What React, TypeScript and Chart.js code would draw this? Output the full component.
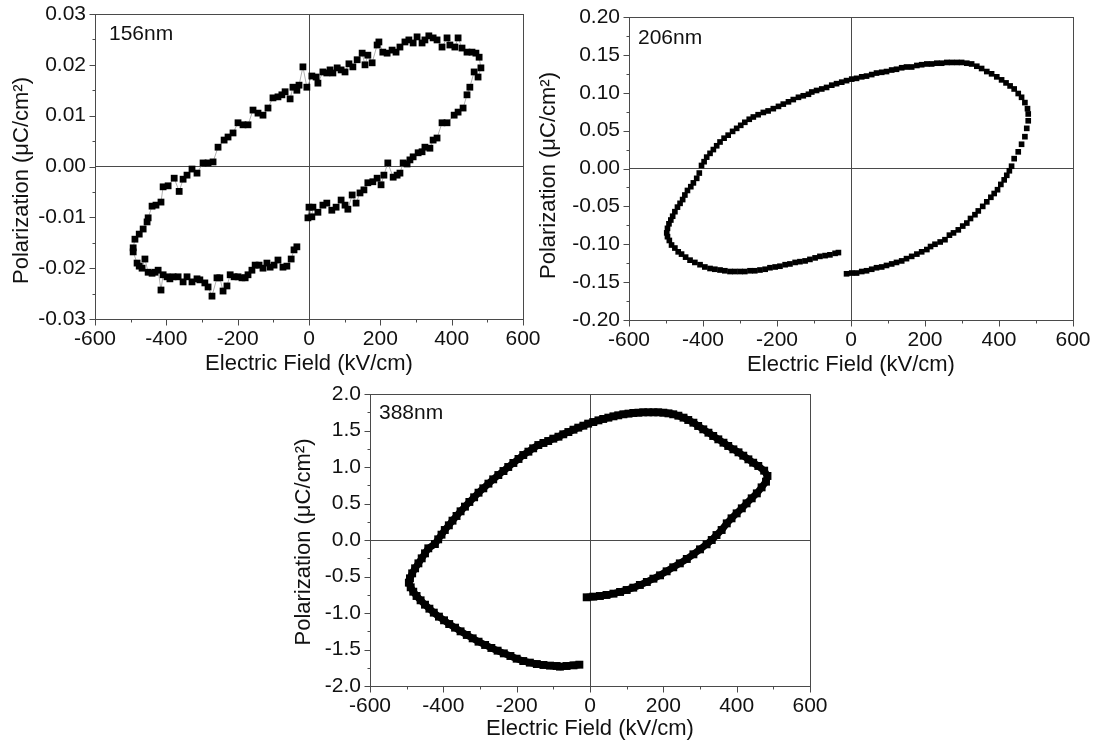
import React, { useEffect, useRef } from 'react';
import { Chart, registerables } from 'chart.js';

Chart.register(...registerables);

const FONT = "'Liberation Sans', Arial, Helvetica, sans-serif";

// ---------- Panel 1: 156nm ----------
const E156 = [
  -3, 0, 8, 11, 25, 39, 50, 64, 76, 90, 101, 109, 121, 132, 143, 154, 165, 179, 191, 202, 210, 221, 236, 247, 255, 264, 275, 283, 292, 306, 317, 325, 339, 348, 359, 373, 387, 407, 418, 432, 443, 451, 463, 474, 482, 477,
  468, 457, 443, 429, 418, 409, 395, 387, 373, 359, 348, 336, 325, 317, 303, 292, 280, 269, 255, 244, 233, 219, 207, 196, 191, 177, 165, 157, 149, 135, 123, 112, 101, 90, 79, 67, 59, 50, 39, 25, 20, 8, -6, -17, -28, -34, -45, -53, -67, -76, -87, -101, -115, -129, -143, -157, -171, -185, -199, -213, -227, -238, -255, -269, -283, -297, -314, -328, -342, -353, -364, -378, -395, -409, -415, -429, -440, -451, -454, -465, -476, -488, -493, -493, -482,
  -476, -468, -460, -451, -440, -432, -423, -415, -409, -398, -390, -381, -367, -353, -342, -328, -314, -306, -292, -283, -272, -258, -250, -241, -230, -221, -210, -199, -188, -179, -171, -160, -151, -140, -129, -118, -109, -98, -87, -73, -62, -50, -42, -34,
];
const P156 = [
  -0.0101, -0.008, -0.0099, -0.008, -0.009, -0.0076, -0.0072, -0.0086, -0.008, -0.0066, -0.0076, -0.0084, -0.0056, -0.0072, -0.0052, -0.0046, -0.0032, -0.003, -0.0023, -0.0036, -0.0017, 0.0007, -0.0021, -0.0017, -0.0013, 0.0007, 0.0005, 0.0013, 0.0019, 0.0027, 0.0029, 0.0038, 0.0036, 0.0052, 0.0056, 0.0086, 0.0086, 0.0101, 0.0107, 0.0115, 0.0141, 0.0156, 0.0186, 0.0176, 0.0194, 0.0215,
  0.0223, 0.0225, 0.0225, 0.0233, 0.0253, 0.0235, 0.0239, 0.0253, 0.0235, 0.0249, 0.0253, 0.0257, 0.0249, 0.0243, 0.0255, 0.0243, 0.0249, 0.0245, 0.0235, 0.0225, 0.0229, 0.0223, 0.0225, 0.0245, 0.0239, 0.0204, 0.0219, 0.02, 0.0223, 0.021, 0.0196, 0.0202, 0.0186, 0.019, 0.0194, 0.0184, 0.019, 0.0184, 0.0186, 0.0164, 0.0176, 0.0178, 0.0156, 0.0196, 0.016, 0.015, 0.0156, 0.0133, 0.0147, 0.0141, 0.0137, 0.0135, 0.0115, 0.0101, 0.0105, 0.0111, 0.0082, 0.0082, 0.0086, 0.0066, 0.0058, 0.0052, 0.0038, 0.0009, 0.0007, 0.0007, -0.0013, -0.0005, -0.0017, -0.0025, -0.0049, -0.0023, -0.0038, -0.004, -0.007, -0.0076, -0.0078, -0.0101, -0.0109, -0.0123, -0.0133, -0.0143, -0.016, -0.0168, -0.019,
  -0.0196, -0.02, -0.0182, -0.0208, -0.021, -0.0208, -0.0204, -0.0243, -0.0213, -0.0217, -0.0221, -0.0217, -0.0217, -0.0227, -0.0217, -0.0227, -0.0221, -0.0223, -0.0229, -0.0237, -0.0255, -0.0219, -0.0219, -0.0245, -0.0235, -0.0213, -0.0217, -0.0217, -0.0219, -0.0219, -0.0213, -0.0204, -0.0194, -0.0194, -0.02, -0.019, -0.0198, -0.0194, -0.0184, -0.0198, -0.0196, -0.0182, -0.0164, -0.0158,
];

// ---------- Panel 2: 206nm ----------
const E206 = [
  -12, 2, 15, 29, 42, 56, 69, 83, 96, 110, 123, 137, 150, 164, 178, 191, 205, 215, 227, 241, 254, 266, 277, 290, 302, 313, 323, 335, 344, 356, 367, 378, 387, 396, 405, 414, 421, 428, 434,
  441, 452, 461, 470, 475, 479, 479, 477, 470, 461, 452, 441, 430, 419, 407, 394, 380, 367, 353, 340, 326, 313, 299, 286, 272, 259, 245, 232, 218, 205, 191, 178, 164, 150, 137, 123, 110, 96, 83, 69, 56, 42, 29, 15, 2, -12, -25, -39, -52, -66, -79, -93, -106,
  -115, -129, -142, -156, -169, -183, -196, -210, -224, -237, -251, -264, -275, -287, -298, -309, -320, -332, -343, -354, -363, -372, -381, -390, -397, -404,
  -410, -417, -426, -433, -442, -449, -455, -462, -469, -476, -482, -487, -492, -496, -498, -496, -491, -485, -476, -467, -458, -447, -435, -422, -408, -395, -381, -368, -354, -341, -327, -314, -300, -287, -273, -260, -246, -232, -219, -205, -192, -178, -165, -151, -138, -124, -111, -97, -84, -70, -57, -43, -34,
];
const P206 = [
  -0.139, -0.138, -0.138, -0.136, -0.135, -0.133, -0.131, -0.13, -0.128, -0.126, -0.124, -0.122, -0.119, -0.116, -0.113, -0.11, -0.107, -0.103, -0.1, -0.097, -0.094, -0.088, -0.085, -0.081, -0.076, -0.072, -0.066, -0.061, -0.056, -0.05, -0.044, -0.038, -0.033, -0.028, -0.021, -0.015, -0.009, -0.003, 0.003,
  0.013, 0.022, 0.032, 0.042, 0.053, 0.063, 0.072, 0.079, 0.087, 0.094, 0.099, 0.105, 0.109, 0.113, 0.117, 0.121, 0.125, 0.128, 0.132, 0.135, 0.138, 0.139, 0.14, 0.14, 0.14, 0.14, 0.139, 0.139, 0.138, 0.138, 0.137, 0.136, 0.134, 0.134, 0.133, 0.131, 0.13, 0.128, 0.127, 0.126, 0.124, 0.122, 0.121, 0.119, 0.118, 0.116, 0.114, 0.112, 0.11, 0.107, 0.105, 0.103, 0.101,
  0.098, 0.096, 0.094, 0.091, 0.088, 0.085, 0.082, 0.079, 0.076, 0.074, 0.071, 0.068, 0.065, 0.061, 0.057, 0.053, 0.049, 0.044, 0.04, 0.035, 0.03, 0.025, 0.02, 0.015, 0.009, 0.004,
  -0.006, -0.013, -0.019, -0.024, -0.029, -0.035, -0.041, -0.046, -0.051, -0.057, -0.063, -0.068, -0.073, -0.079, -0.085, -0.09, -0.095, -0.101, -0.105, -0.11, -0.113, -0.117, -0.121, -0.124, -0.127, -0.13, -0.132, -0.133, -0.134, -0.135, -0.136, -0.136, -0.136, -0.136, -0.135, -0.135, -0.134, -0.133, -0.131, -0.13, -0.129, -0.127, -0.126, -0.124, -0.123, -0.122, -0.12, -0.118, -0.116, -0.115, -0.114, -0.112, -0.111,
];

// ---------- Panel 3: 388nm ----------
const E388 = [
  -9, 9, 27, 45, 64, 82, 100, 118, 136, 155, 173, 191, 209, 227, 245, 264, 282, 300, 318, 332, 345, 359,
  373, 386, 400, 414, 427, 441, 455, 468, 480, 484, 475, 459, 445, 432, 418, 405, 391, 377, 364, 350, 336, 323, 309, 295, 282, 268, 255, 241, 227, 214, 200, 186, 173, 159, 145, 132, 118, 105, 91, 77, 64, 50, 36, 23, 9, -5, -18, -32, -45, -59, -73, -86, -100, -114, -127,
  -141, -155, -168, -182, -195, -209, -223, -236, -250, -264, -277, -291, -304, -316, -329, -341, -353, -364, -375, -385, -396, -405, -414, -423,
  -441, -450, -459, -468, -477, -485, -491, -494, -489, -482, -473, -462, -450, -438, -426, -412, -398, -384, -368, -353, -336, -320, -304, -286, -269, -252, -235, -217, -200, -182, -164, -145, -127, -109, -91,
  -82, -64, -45, -29,
];
const P388 = [
  -0.785, -0.776, -0.767, -0.753, -0.735, -0.712, -0.685, -0.653, -0.616, -0.575, -0.53, -0.484, -0.429, -0.374, -0.32, -0.26, -0.196, -0.128, -0.059, 0.0, 0.068, 0.137,
  0.228, 0.297, 0.365, 0.434, 0.502, 0.571, 0.639, 0.721, 0.799, 0.877, 0.95, 1.014, 1.059, 1.105, 1.155, 1.201, 1.242, 1.288, 1.333, 1.379, 1.425, 1.47, 1.516, 1.562, 1.607, 1.644, 1.676, 1.703, 1.722, 1.735, 1.744, 1.749, 1.749, 1.749, 1.749, 1.744, 1.74, 1.731, 1.722, 1.708, 1.694, 1.676, 1.658, 1.639, 1.616, 1.594, 1.566, 1.539, 1.511, 1.479, 1.448, 1.415, 1.388, 1.356, 1.329,
  1.301, 1.256, 1.21, 1.164, 1.11, 1.055, 1.0, 0.945, 0.89, 0.831, 0.772, 0.708, 0.648, 0.585, 0.521, 0.457, 0.393, 0.329, 0.265, 0.201, 0.137, 0.073, 0.009, -0.055,
  -0.114, -0.183, -0.251, -0.32, -0.388, -0.457, -0.525, -0.584, -0.648, -0.708, -0.767, -0.826, -0.886, -0.941, -0.995, -1.05, -1.1, -1.151, -1.201, -1.251, -1.301, -1.347, -1.393, -1.438, -1.479, -1.516, -1.553, -1.589, -1.626, -1.658, -1.68, -1.699, -1.712, -1.721, -1.726,
  -1.735, -1.726, -1.717, -1.708,
];

// ---------- Axes ----------
const X_MIN = -600;
const X_MAX = 600;
const X_STEP = 100; // minor step, labels every 2 steps
const X_TITLE = 'Electric Field (kV/cm)';
const Y_TITLE = 'Polarization (\u03bcC/cm\u00b2)';

const LABELS = ['156nm', '206nm', '388nm'];

type PanelCfg = {
  E: number[];
  P: number[];
  label: string;
  box: { left: number; top: number; width: number; height: number };
  area: { l: number; t: number; r: number; b: number };
  yMin: number;
  yMax: number;
  yStep: number;
  yDec: number;
  radius: number;
  line: { color: string; width: number } | null;
  labelDx: number;
  labelDy: number;
  yTitleX: number;
  yTitleShift: number;
  xTitleC: number;
};

const PANELS: PanelCfg[] = [
  {
    E: E156, P: P156, label: LABELS[0],
    box: { left: 0, top: 0, width: 548, height: 380 },
    area: { l: 95, t: 14, r: 523, b: 319 },
    yMin: -0.03, yMax: 0.03, yStep: 0.005, yDec: 2,
    radius: 4.8, line: { color: '#9a9a9a', width: 0.8 },
    labelDx: 14, labelDy: 20, yTitleX: 22, yTitleShift: 14, xTitleC: 364,
  },
  {
    E: E206, P: P206, label: LABELS[1],
    box: { left: 528, top: 0, width: 568, height: 380 },
    area: { l: 101, t: 17, r: 545, b: 320 },
    yMin: -0.2, yMax: 0.2, yStep: 0.025, yDec: 2,
    radius: 4, line: null,
    labelDx: 9, labelDy: 21, yTitleX: 21, yTitleShift: 7, xTitleC: 365,
  },
  {
    E: E388, P: P388, label: LABELS[2],
    box: { left: 280, top: 380, width: 560, height: 366 },
    area: { l: 90, t: 14, r: 530, b: 306 },
    yMin: -2, yMax: 2, yStep: 0.25, yDec: 1,
    radius: 5.6, line: { color: '#000', width: 7 },
    labelDx: 9, labelDy: 19, yTitleX: 24, yTitleShift: 2, xTitleC: 349,
  },
];

const TITLE_SIZE = 22;
const TITLE_LH = 1.2;
const TICK_SIZE = 21;
const TEXT_COLOR = '#111';
const LINE_COLOR = '#4a4a4a';

const framePlugin = {
  id: 'frameTicks',
  afterDraw(chart: any, _args: any, opts: any) {
    const { ctx, chartArea: a } = chart;
    ctx.save();
    ctx.strokeStyle = LINE_COLOR;
    ctx.lineWidth = 1;
    ctx.strokeRect(a.left + 0.5, a.top + 0.5, a.right - a.left, a.bottom - a.top);
    ctx.beginPath();
    const xs = chart.scales.x;
    xs.ticks.forEach((t: any, i: number) => {
      const k = Math.round(t.value / opts.xStep);
      const len = k % 2 === 0 ? 6 : 3;
      const px = Math.round(xs.getPixelForTick(i)) + 0.5;
      ctx.moveTo(px, a.bottom + 0.5);
      ctx.lineTo(px, a.bottom + 0.5 + len);
    });
    const ys = chart.scales.y;
    ys.ticks.forEach((t: any, i: number) => {
      const k = Math.round(t.value / opts.yStep);
      const len = k % 2 === 0 ? 6 : 3;
      const py = Math.round(ys.getPixelForTick(i)) + 0.5;
      ctx.moveTo(a.left + 0.5, py);
      ctx.lineTo(a.left + 0.5 - len, py);
    });
    ctx.stroke();
    ctx.fillStyle = TEXT_COLOR;
    ctx.font = `${TICK_SIZE}px ${FONT}`;
    ctx.textBaseline = 'middle';
    ctx.textAlign = 'left';
    ctx.fillText(opts.label, a.left + opts.dx, a.top + opts.dy);
    ctx.save();
    ctx.font = `${TITLE_SIZE}px ${FONT}`;
    ctx.textAlign = 'center';
    ctx.translate(opts.yTitleX, (a.top + a.bottom) / 2 + opts.yTitleShift);
    ctx.rotate(-Math.PI / 2);
    ctx.fillText(opts.yTitle, 0, 0);
    ctx.restore();
    ctx.restore();
  },
};

function Panel({ cfg }: { cfg: PanelCfg }) {
  const ref = useRef<HTMLCanvasElement | null>(null);
  useEffect(() => {
    if (!ref.current) return;
    const { box, area } = cfg;
    const half = (TITLE_SIZE * TITLE_LH) / 2;
    const isZero = (v: number) => Math.abs(v) < 1e-9;
    const chart = new Chart(ref.current, {
      type: 'scatter',
      data: {
        datasets: [
          {
            data: cfg.E.map((x, i) => ({ x, y: cfg.P[i] })),
            pointStyle: 'rect',
            pointRadius: cfg.radius,
            pointBackgroundColor: '#000',
            pointBorderWidth: 0,
            showLine: !!cfg.line,
            borderColor: cfg.line ? cfg.line.color : '#000',
            borderWidth: cfg.line ? cfg.line.width : 0,
            borderJoinStyle: 'round',
            tension: 0,
          } as any,
        ],
      },
      options: {
        responsive: false,
        animation: false,
        events: [],
        layout: {
          padding: { left: 0, top: area.t, right: box.width - area.r, bottom: 0 },
        },
        plugins: {
          legend: { display: false },
          tooltip: { enabled: false },
          frameTicks: {
            label: cfg.label, dx: cfg.labelDx, dy: cfg.labelDy, xStep: X_STEP, yStep: cfg.yStep,
            yTitle: Y_TITLE, yTitleX: cfg.yTitleX, yTitleShift: cfg.yTitleShift,
          },
        } as any,
        scales: {
          x: {
            type: 'linear',
            min: X_MIN,
            max: X_MAX,
            border: { display: false },
            grid: {
              drawTicks: false,
              color: (c: any) => (c.tick && isZero(c.tick.value) ? LINE_COLOR : 'rgba(0,0,0,0)'),
              lineWidth: 1,
            },
            ticks: {
              stepSize: X_STEP,
              autoSkip: false,
              maxRotation: 0,
              padding: 8,
              color: TEXT_COLOR,
              font: { family: FONT, size: TICK_SIZE },
              callback: (v: any) => {
                const k = Math.round(Number(v) / X_STEP);
                return k % 2 === 0 ? String(k * X_STEP) : '';
              },
            },
            title: {
              display: true,
              text: X_TITLE,
              color: TEXT_COLOR,
              font: { family: FONT, size: TITLE_SIZE, lineHeight: TITLE_LH },
              padding: { top: 0, bottom: box.height - cfg.xTitleC - half },
            },
            afterFit: (s: any) => {
              s.height = box.height - area.b;
              s.paddingLeft = 0;
              s.paddingRight = 0;
            },
          },
          y: {
            type: 'linear',
            min: cfg.yMin,
            max: cfg.yMax,
            border: { display: false },
            grid: {
              drawTicks: false,
              color: (c: any) => (c.tick && isZero(c.tick.value) ? LINE_COLOR : 'rgba(0,0,0,0)'),
              lineWidth: 1,
            },
            ticks: {
              stepSize: cfg.yStep,
              autoSkip: false,
              padding: 9,
              color: TEXT_COLOR,
              font: { family: FONT, size: TICK_SIZE },
              callback: (v: any) => {
                const k = Math.round(Number(v) / cfg.yStep);
                return k % 2 === 0 ? (k * cfg.yStep).toFixed(cfg.yDec) : '';
              },
            },
            title: { display: false },
            afterFit: (s: any) => {
              s.width = area.l;
              s.paddingTop = 0;
              s.paddingBottom = 0;
            },
          },
        },
      },
      plugins: [framePlugin as any],
    });
    return () => chart.destroy();
  }, [cfg]);
  const { box } = cfg;
  return (
    <canvas
      ref={ref}
      width={box.width}
      height={box.height}
      style={{ position: 'absolute', left: box.left, top: box.top, width: box.width, height: box.height }}
    />
  );
}

export default function App() {
  return (
    <div style={{ position: 'absolute', left: 0, top: 0, width: 1096, height: 746, background: '#fff', overflow: 'hidden' }}>
      {PANELS.map((p, i) => (
        <Panel key={i} cfg={p} />
      ))}
    </div>
  );
}
